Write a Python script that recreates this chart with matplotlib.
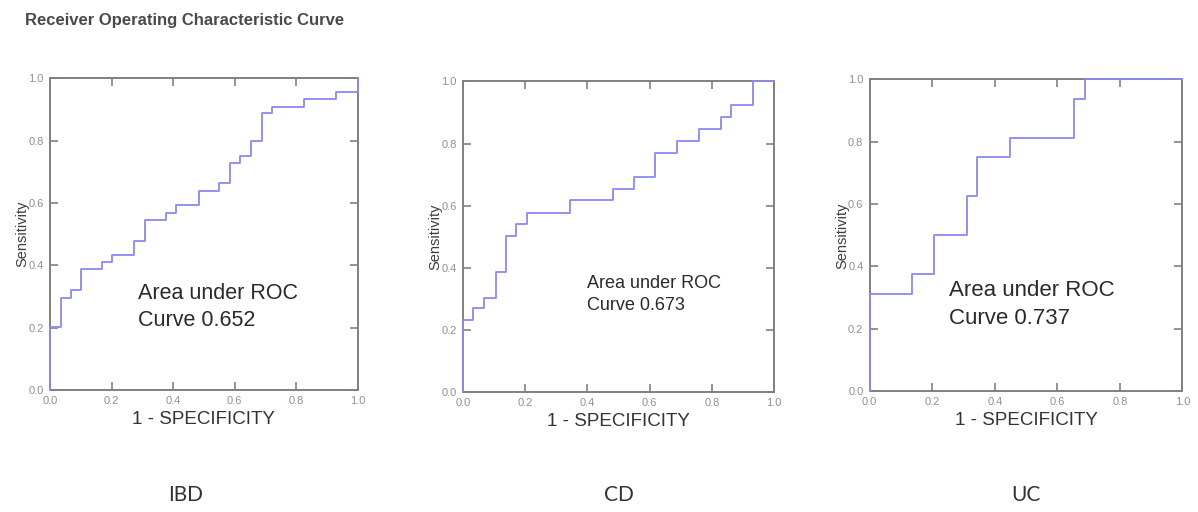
import numpy as np
import matplotlib.pyplot as plt

# ROC staircase corners (1 - specificity, sensitivity)
ibd_fpr = [0, 0, 0.036, 0.068, 0.10, 0.168, 0.203, 0.274, 0.308, 0.376, 0.411,
           0.483, 0.548, 0.586, 0.616, 0.652, 0.69, 0.722, 0.825, 0.93, 1.0]
ibd_tpr = [0, 0.203, 0.294, 0.32, 0.387, 0.41, 0.435, 0.478, 0.545, 0.569, 0.594,
           0.64, 0.663, 0.727, 0.75, 0.799, 0.89, 0.909, 0.933, 0.957, 1.0]

cd_fpr = [0, 0, 0.032, 0.066, 0.105, 0.139, 0.171, 0.206, 0.343, 0.482, 0.549,
          0.618, 0.688, 0.759, 0.829, 0.863, 0.932, 1.0]
cd_tpr = [0, 0.232, 0.27, 0.302, 0.387, 0.502, 0.54, 0.576, 0.617, 0.655, 0.694,
          0.769, 0.807, 0.847, 0.887, 0.925, 1.0, 1.0]

uc_fpr = [0, 0, 0.136, 0.204, 0.31, 0.342, 0.447, 0.654, 0.69, 1.0]
uc_tpr = [0, 0.3125, 0.375, 0.5, 0.625, 0.75, 0.8125, 0.9375, 1.0, 1.0]

groups = ['IBD', 'CD', 'UC']
auc = [0.652, 0.673, 0.737]
ticks = [0.0, 0.2, 0.4, 0.6, 0.8, 1.0]

plt.rcParams['font.family'] = ['Liberation Sans', 'DejaVu Sans']

fig = plt.figure(figsize=(11.98, 5.12), dpi=100)

# axes boxes in figure fractions
boxes = [[0.0417, 0.238, 0.257, 0.609],
         [0.3865, 0.234, 0.2596, 0.607],
         [0.726, 0.236, 0.261, 0.609]]
text_pos = [(0.286, 0.345, 15.5), (0.40, 0.378, 13), (0.255, 0.355, 16)]
curves = [(ibd_fpr, ibd_tpr), (cd_fpr, cd_tpr), (uc_fpr, uc_tpr)]

for i in range(3):
    ax = fig.add_axes(boxes[i])
    fpr, tpr = curves[i]
    ax.plot(fpr, tpr, drawstyle='steps-post', color='#8a8af0', lw=1.3,
            clip_on=False, zorder=5)
    ax.set_xlim(0, 1)
    ax.set_ylim(0, 1)
    ax.set_xticks(ticks)
    ax.set_yticks(ticks)
    ax.set_xticklabels(['%.1f' % t for t in ticks])
    ax.set_yticklabels(['%.1f' % t for t in ticks])
    ax.tick_params(direction='in', length=6, width=1.2, color='#808080',
                   labelcolor='#909090', labelsize=8, top=True, right=True,
                   pad=4.5)
    for s in ax.spines.values():
        s.set_color('#808080')
        s.set_linewidth(1.4)
    ax.set_xlabel('1 - SPECIFICITY', fontsize=13.5, color='#333333', labelpad=3)
    ax.set_ylabel('Sensitivity', fontsize=10.5, color='#3c3c3c', labelpad=-1)
    tx, ty, fs = text_pos[i]
    ax.text(tx, ty, 'Area under ROC\nCurve %.3f' % auc[i], fontsize=fs,
            color='#2a2a2a', va='top', ha='left', linespacing=1.4)
    fig.text(boxes[i][0] + boxes[i][2] / 2 - 0.015 * (i == 0), 0.033,
             groups[i], fontsize=15, color='#333333', ha='center',
             va='center', family=['Lato', 'DejaVu Sans'])

fig.text(0.021, 0.96, 'Receiver Operating Characteristic Curve', fontsize=12,
         fontweight='bold', color='#4a4a4a', ha='left', va='center')

plt.savefig('out.png', dpi=100)
